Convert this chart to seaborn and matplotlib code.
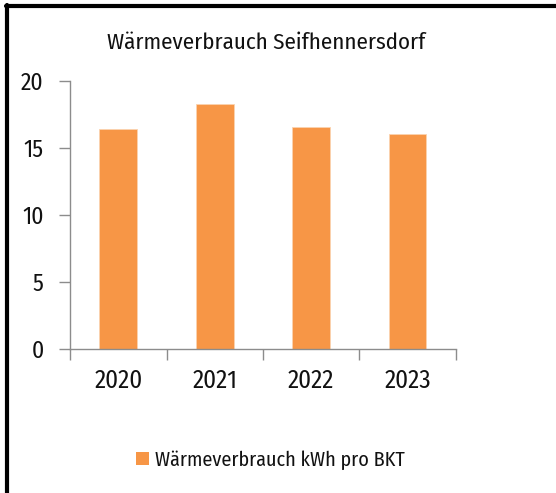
import numpy as np
import pandas as pd
import matplotlib
matplotlib.use("Agg")
import matplotlib.pyplot as plt
import seaborn as sns
from matplotlib.patches import Patch
from matplotlib.lines import Line2D

# Daten
jahre = ["2020", "2021", "2022", "2023"]
werte = [16.4, 18.25, 16.55, 16.0]
serie = "Wärmeverbrauch kWh pro BKT"
titel = "Wärmeverbrauch Seifhennersdorf"
y_ticks = [0, 5, 10, 15, 20]

ORANGE = "#F79646"
GRAU = "#8C8C8C"

sns.set_theme(style="white")
plt.rcParams['font.family'] = ['Fira Sans Condensed', 'DejaVu Sans']

df = pd.DataFrame({"Jahr": jahre, "Wert": werte})

fig = plt.figure(figsize=(5.56, 4.93), dpi=100)
ax = fig.add_axes([0.126, 0.2915, 0.694, 0.545])

sns.barplot(data=df, x="Jahr", y="Wert", color=ORANGE, saturation=1,
            width=0.39, edgecolor="#FBD3B0", linewidth=0.6, ax=ax)

ax.set_ylim(0, 20)
ax.set_xlim(-0.5, len(jahre) - 0.5)
ax.set_yticks(y_ticks)
ax.set_yticklabels([str(t) for t in y_ticks], fontsize=17, color="#111111")
ax.set_xticks(np.arange(-0.5, len(jahre)), labels=[""] * (len(jahre) + 1))
ax.set_xticks(np.arange(len(jahre)), labels=jahre, minor=True, fontsize=18, color="#111111")
ax.tick_params(axis="x", which="major", bottom=True, length=8, color=GRAU, width=1, direction="out")
ax.tick_params(axis="x", which="minor", bottom=True, length=0, pad=14)
ax.tick_params(axis="y", left=True, length=8, color=GRAU, width=1, direction="out", pad=11)
ax.set_xlabel("")
ax.set_ylabel("")

sns.despine(ax=ax, top=True, right=True)
for s in ["left", "bottom"]:
    ax.spines[s].set_color(GRAU)
    ax.spines[s].set_linewidth(1)

fig.text(0.478, 0.913, titel, ha="center", va="center", fontsize=16.5, color="#111111")

handle = Patch(facecolor=ORANGE, edgecolor="none")
fig.legend([handle], [serie], loc="center", bbox_to_anchor=(0.487, 0.067),
           frameon=False, fontsize=14.5, handlelength=0.65, handleheight=0.65,
           handletextpad=0.3, labelcolor="#111111")

# Rahmen oben und links
fig.add_artist(Line2D([0.011, 1], [0.988, 0.988], transform=fig.transFigure,
                      color="black", linewidth=3))
fig.add_artist(Line2D([0.012, 0.012], [0, 0.99], transform=fig.transFigure,
                      color="black", linewidth=3))

fig.savefig("out.png", dpi=100, facecolor="white")
